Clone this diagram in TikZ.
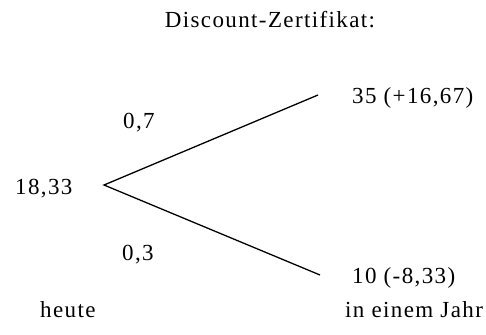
\documentclass[tikz,border=0pt]{standalone}
\usepackage{fontspec}
\setmainfont[LetterSpace=6]{Liberation Serif}
\begin{document}
\begin{tikzpicture}[x=1pt,y=-1pt,
  lbl/.style={inner sep=0pt,anchor=base west,font=\fontsize{23}{27}\selectfont},
  branch/.style={line width=1.3pt}]
\useasboundingbox (0,0) rectangle (486,334);
\node[lbl,anchor=base] (title) at (270,28) {Discount-Zertifikat:};
\node[lbl] (root) at (15,194) {18,33};
\coordinate (apex) at (104,185);
\coordinate (upend) at (318,95);
\coordinate (downend) at (320,275);
\node[lbl] (up) at (352,103) {35 (+16,67)};
\node[lbl] (down) at (352,283) {10 (-8,33)};
\node[lbl] (pu) at (123,128) {0,7};
\node[lbl] (pd) at (122,260) {0,3};
\node[lbl] (today) at (40,317) {heute};
\node[lbl] (year) at (345,317) {in einem Jahr};
\draw[branch] (upend) -- (apex) -- (downend);
\end{tikzpicture}
\end{document}
